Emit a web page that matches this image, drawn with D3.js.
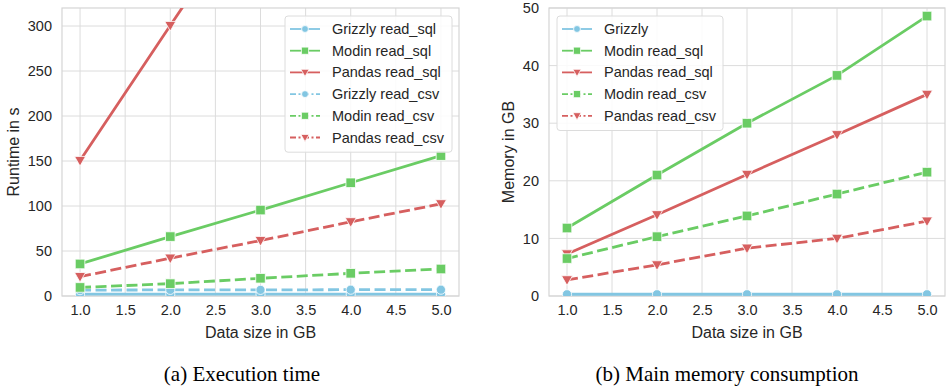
<!DOCTYPE html>
<html>
<head>
<meta charset="utf-8">
<script src="https://cdn.jsdelivr.net/npm/d3@7"></script>
<style>
  body { margin: 0; background: #fff; }
  svg text { font-family: "Liberation Sans", Arial, sans-serif; fill: #262626; }
  .caption { font-family: "Liberation Serif", "Times New Roman", serif; font-size: 21px; fill: #000; }
</style>
</head>
<body>
<svg width="947" height="387"></svg>
<script>
// data sizes (GB)
const sizes = [1, 2, 3, 4, 5];
const xTicks = [1.0, 1.5, 2.0, 2.5, 3.0, 3.5, 4.0, 4.5, 5.0];

// runtime in s
const grizzlySqlTime = [2, 2, 2, 2, 2];
const modinSqlTime = [35.6, 66, 95.5, 125.8, 156];
const pandasSqlTime = [150.5, 300.5, 450, 600, 750];
const grizzlyCsvTime = [6.5, 6.8, 6.8, 7, 7];
const modinCsvTime = [9.5, 13.7, 19.7, 25.2, 30];
const pandasCsvTime = [21.5, 42, 61.6, 82.4, 102.4];
const timeTicks = [0, 50, 100, 150, 200, 250, 300];

// memory in GB
const grizzlyMem = [0.3, 0.3, 0.3, 0.3, 0.3];
const modinSqlMem = [11.8, 21, 30, 38.3, 48.6];
const pandasSqlMem = [7.3, 14.1, 21.1, 28, 35];
const modinCsvMem = [6.5, 10.3, 13.9, 17.7, 21.5];
const pandasCsvMem = [2.8, 5.4, 8.3, 10, 13];
const memTicks = [0, 10, 20, 30, 40, 50];

const blue = "#82c6e2", green = "#6acc64", red = "#d65f5f";

const svg = d3.select("svg");
let clipId = 0;

function drawMarker(g, shape, color, x, y, k) {
    k = k || 1;
    if (shape === "tri") {
        const s = 5.5 * k;
        g.append("path")
            .attr("d", `M${x - s},${y - s * 0.75}L${x + s},${y - s * 0.75}L${x},${y + s}Z`)
            .attr("fill", color).attr("stroke", "#fff").attr("stroke-width", 0.8);
    } else {
        const sym = shape === "circle" ? d3.symbolCircle : d3.symbolSquare;
        const area = shape === "circle" ? 66 : 92;
        g.append("path")
            .attr("transform", `translate(${x},${y})`)
            .attr("d", d3.symbol(sym, area * k * k)())
            .attr("fill", color).attr("stroke", "#fff").attr("stroke-width", 0.8);
    }
}

function panel(opt) {
    const x = d3.scaleLinear().domain([0.8, 5.2]).range([opt.left, opt.right]);
    const y = d3.scaleLinear().domain(opt.yDomain).range([opt.bottom, opt.top]);
    const g = svg.append("g");

    // grid
    g.selectAll(".gx").data(xTicks).enter().append("line")
        .attr("x1", d => x(d)).attr("x2", d => x(d))
        .attr("y1", opt.top).attr("y2", opt.bottom)
        .attr("stroke", "#dcdcdc").attr("stroke-width", 1);
    g.selectAll(".gy").data(opt.yTicks).enter().append("line")
        .attr("x1", opt.left).attr("x2", opt.right)
        .attr("y1", d => y(d)).attr("y2", d => y(d))
        .attr("stroke", "#dcdcdc").attr("stroke-width", 1);

    // axes
    const xa = g.append("g").attr("transform", `translate(0,${opt.bottom})`)
        .call(d3.axisBottom(x).tickValues(xTicks).tickFormat(d3.format(".1f")).tickSize(0).tickPadding(9));
    const ya = g.append("g").attr("transform", `translate(${opt.left},0)`)
        .call(d3.axisLeft(y).tickValues(opt.yTicks).tickSize(0).tickPadding(10));
    [xa, ya].forEach(a => {
        a.select(".domain").remove();
        a.selectAll("text").attr("font-size", 14.5).style("fill", "#262626")
            .attr("font-family", "Liberation Sans, Arial, sans-serif");
    });

    // frame
    g.append("rect").attr("x", opt.left).attr("y", opt.top)
        .attr("width", opt.right - opt.left).attr("height", opt.bottom - opt.top)
        .attr("fill", "none").attr("stroke", "#d5d5d5").attr("stroke-width", 1.2);

    // series
    const cid = "clip" + (clipId++);
    g.append("clipPath").attr("id", cid).append("rect")
        .attr("x", opt.left).attr("y", opt.top)
        .attr("width", opt.right - opt.left).attr("height", opt.bottom - opt.top);
    const sg = g.append("g").attr("clip-path", `url(#${cid})`);
    const line = d3.line().x((d, i) => x(sizes[i])).y(d => y(d));
    opt.series.forEach(s => {
        sg.append("path").datum(s.values).attr("d", line)
            .attr("fill", "none").attr("stroke", s.color).attr("stroke-width", 2.8)
            .attr("stroke-dasharray", s.dashed ? "11,4.5" : null);
        s.values.forEach((v, i) => drawMarker(sg, s.shape, s.color, x(sizes[i]), y(v)));
    });

    // axis labels
    g.append("text").attr("x", (opt.left + opt.right) / 2).attr("y", 338)
        .attr("text-anchor", "middle").attr("font-size", 16).text("Data size in GB");
    g.append("text").attr("transform", `translate(${opt.yLabelX},${(opt.top + opt.bottom) / 2}) rotate(-90)`)
        .attr("text-anchor", "middle").attr("font-size", 16).text(opt.yLabel);

    // legend
    const L = opt.legend;
    const lg = g.append("g");
    lg.append("rect").attr("x", L.x).attr("y", L.y).attr("width", L.w)
        .attr("height", opt.series.length * 21.7 + 6)
        .attr("rx", 3).attr("fill", "#fff").attr("fill-opacity", 0.85)
        .attr("stroke", "#dcdcdc").attr("stroke-width", 1);
    opt.series.forEach((s, i) => {
        const cy = L.y + 13 + i * 21.7;
        lg.append("line").attr("x1", L.x + 5).attr("x2", L.x + 35)
            .attr("y1", cy).attr("y2", cy)
            .attr("stroke", s.color).attr("stroke-width", 1.8)
            .attr("stroke-dasharray", s.dashed ? "6,2.5,2,2.5" : null);
        drawMarker(lg, s.shape, s.color, L.x + 20, cy, 0.75);
        lg.append("text").attr("x", L.x + 47).attr("y", cy).attr("dy", "0.35em")
            .attr("font-size", 14.5).text(s.name);
    });

    svg.append("text").attr("class", "caption").attr("x", opt.capX).attr("y", 381)
        .attr("text-anchor", "middle").text(opt.caption);
}

panel({
    left: 62, right: 459, top: 8, bottom: 296,
    yDomain: [0, 320], yTicks: timeTicks, yLabel: "Runtime in s", yLabelX: 19,
    legend: {x: 285, y: 16, w: 167},
    caption: "(a) Execution time", capX: 242,
    series: [
        {name: "Grizzly read_sql", values: grizzlySqlTime, color: blue, shape: "circle", dashed: false},
        {name: "Modin read_sql", values: modinSqlTime, color: green, shape: "square", dashed: false},
        {name: "Pandas read_sql", values: pandasSqlTime, color: red, shape: "tri", dashed: false},
        {name: "Grizzly read_csv", values: grizzlyCsvTime, color: blue, shape: "circle", dashed: true},
        {name: "Modin read_csv", values: modinCsvTime, color: green, shape: "square", dashed: true},
        {name: "Pandas read_csv", values: pandasCsvTime, color: red, shape: "tri", dashed: true}
    ]
});

panel({
    left: 549, right: 945, top: 8, bottom: 296,
    yDomain: [0, 50], yTicks: memTicks, yLabel: "Memory in GB", yLabelX: 514,
    legend: {x: 557, y: 16, w: 166},
    caption: "(b) Main memory consumption", capX: 727,
    series: [
        {name: "Grizzly", values: grizzlyMem, color: blue, shape: "circle", dashed: false},
        {name: "Modin read_sql", values: modinSqlMem, color: green, shape: "square", dashed: false},
        {name: "Pandas read_sql", values: pandasSqlMem, color: red, shape: "tri", dashed: false},
        {name: "Modin read_csv", values: modinCsvMem, color: green, shape: "square", dashed: true},
        {name: "Pandas read_csv", values: pandasCsvMem, color: red, shape: "tri", dashed: true}
    ]
});
</script>
</body>
</html>
